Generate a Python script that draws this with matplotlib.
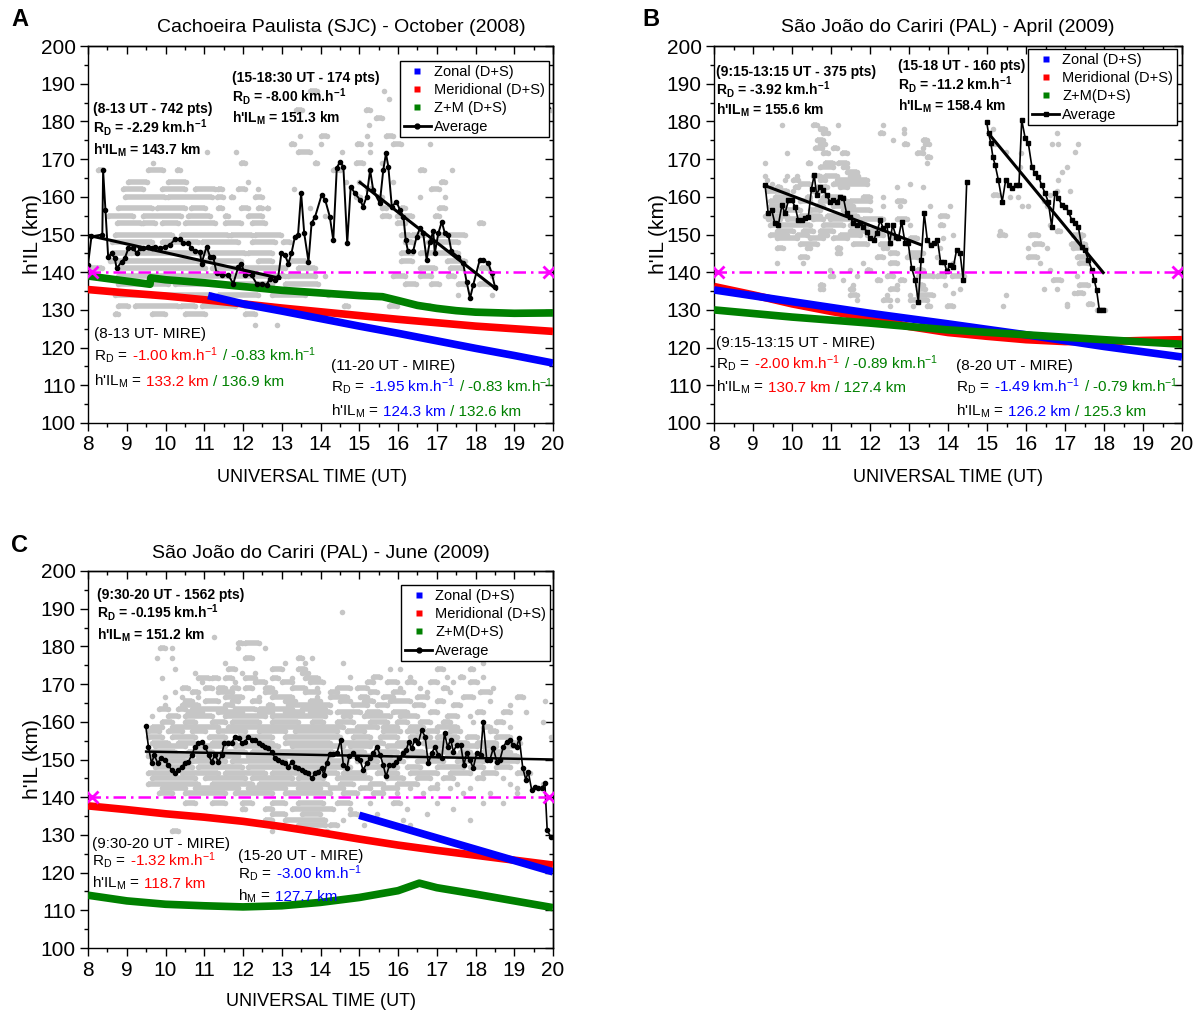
import numpy as np
import matplotlib
matplotlib.use('Agg')
import matplotlib.pyplot as plt
from matplotlib.ticker import MultipleLocator, NullFormatter
from matplotlib.lines import Line2D
from matplotlib.collections import LineCollection
from matplotlib.transforms import offset_copy

plt.rcParams['font.family'] = ['Liberation Sans', 'DejaVu Sans']
plt.rcParams['mathtext.fontset'] = 'custom'
plt.rcParams['mathtext.rm'] = 'Liberation Sans'
plt.rcParams['mathtext.it'] = 'Liberation Sans:italic'
plt.rcParams['mathtext.bf'] = 'Liberation Sans:bold'
plt.rcParams['axes.linewidth'] = 1.0

# ---------------- data ----------------
# Panel A : Cachoeira Paulista, October 2008
A_avg_t = [8.0, 8.09, 8.37, 8.39, 8.45, 8.52, 8.61, 8.69, 8.74, 8.87, 8.95, 9.04, 9.17, 9.26, 9.34, 9.43, 9.56, 9.64,
           9.73, 9.86, 9.98, 10.11, 10.24, 10.37, 10.46, 10.59, 10.67, 10.76, 10.89, 10.93, 11.06, 11.15, 11.23, 11.32,
           11.45, 11.62, 11.75, 11.88, 11.96, 12.05, 12.22, 12.35, 12.48, 12.61, 12.69, 12.82, 12.91, 12.99, 13.08,
           13.17, 13.25, 13.34, 13.42, 13.5, 13.58, 13.69, 13.77, 13.86, 14.03, 14.12, 14.24, 14.33, 14.42, 14.5,
           14.59, 14.69, 14.78, 14.89, 15.02, 15.1, 15.19, 15.28, 15.36, 15.53, 15.62, 15.69, 15.75, 15.84, 15.96,
           16.05, 16.14, 16.2, 16.26, 16.39, 16.48, 16.57, 16.65, 16.74, 16.82, 16.91, 16.95, 17.04, 17.13, 17.21,
           17.3, 17.38, 17.55, 17.68, 17.77, 17.86, 17.94, 18.11, 18.2, 18.33, 18.42, 18.5]
A_avg_h = [142.0, 149.5, 150.0, 167.0, 156.5, 144.1, 145.0, 143.7, 141.0, 142.8, 143.7, 146.3, 146.3, 145.0, 146.3,
           146.3, 146.8, 146.3, 146.8, 146.3, 146.8, 147.2, 148.7, 148.7, 147.7, 147.7, 146.3, 145.7, 145.4, 142.3,
           146.8, 144.1, 144.1, 139.7, 139.2, 139.2, 137.0, 141.5, 142.3, 139.2, 139.2, 137.0, 137.0, 136.6, 138.3,
           137.9, 138.8, 145.0, 144.6, 142.3, 145.0, 149.4, 149.9, 161.0, 150.3, 142.8, 153.0, 154.7, 160.5, 159.2,
           154.7, 148.5, 167.6, 169.3, 168.0, 147.7, 162.7, 160.9, 159.2, 157.4, 160.0, 167.1, 161.8, 158.3, 167.1,
           171.5, 168.0, 157.4, 158.7, 156.5, 154.7, 148.5, 145.5, 145.5, 149.4, 151.7, 150.3, 143.3, 148.1, 150.8,
           145.0, 150.3, 153.4, 150.3, 149.9, 145.5, 144.1, 142.4, 137.5, 133.1, 136.6, 143.3, 143.3, 142.4, 139.7,
           136.2]
A_avg2_t = [19.82, 19.92]
A_avg2_h = [185.5, 183.5]
A_fit1_t, A_fit1_h = [8.0, 12.95], [149.8, 138.4]
A_fit2_t, A_fit2_h = [15.02, 18.54], [163.8, 135.5]
A_zon_t = [11.1, 12, 13, 14, 15, 16, 17, 18, 19, 20]
A_zon_h = [133.8, 131.6, 129.7, 127.7, 125.7, 123.8, 121.8, 119.8, 117.9, 115.9]
A_mer_t = [8, 9, 10, 11, 12, 13, 14, 15, 16, 17, 18, 19, 20]
A_mer_h = [135.4, 134.5, 133.7, 132.7, 131.6, 130.5, 129.5, 128.5, 127.5, 126.6, 125.7, 125.0, 124.3]
A_zm_t = [8, 9.6, 9.62, 10, 11, 12, 13, 14, 15, 15.6, 16, 16.5, 17, 17.5, 18, 19, 20]
A_zm_h = [139.0, 136.8, 138.5, 138.0, 137.2, 136.2, 135.2, 134.5, 133.8, 133.5, 132.5, 131.2, 130.4, 129.8, 129.4,
          129.1, 129.2]
# grey individual points: (height, [single time or (start, end) run of adjacent points])
A_gray = [
    (188, [(13.72, 13.91), 15.63]),
    (186, [15.78, (19.7, 19.78)]),
    (183, [(13.37, 13.52), (15.17, 15.29), (19.85, 19.95)]),
    (181, [(15.44, 15.58)]),
    (179, [15.24]),
    (176, [13.47, (14.01, 14.16), 15.19, (15.68, 15.88)]),
    (174, [(13.23, 13.32), 14.01, (14.95, 15.04), 15.27, (15.86, 16.07), 16.83]),
    (172, [11.06, 11.83, (13.42, 13.72), 14.55, 15.27]),
    (169, [9.68, (11.96, 12.05), (13.86, 13.91), (14.92, 15.09), 15.58]),
    (167, [(8.26, 8.39), (9.54, 9.94), (10.29, 10.37), (14.31, 14.5), 15.29, (16.57, 16.66), 17.4]),
    (164, [(9.04, 9.51), (10.07, 10.54), 12.13, 14.65, 15.0, 15.88, (17.1, 17.2)]),
    (162, [(8.91, 9.43), (9.9, 10.5), (10.76, 11.27), (11.36, 11.45), (11.88, 12.05), 12.39, 13.32, (15.19, 15.34),
           (16.86, 17.06)]),
    (160, [(8.95, 9.98), (10.07, 11.19), (11.32, 11.49), (11.7, 11.75), (12.3, 12.48), (14.92, 15.02), (15.49, 15.58),
           16.57, 17.2]),
    (157, [(8.78, 9.64), (9.77, 10.5), (10.67, 11.02), (11.36, 11.45), (11.96, 12.13), (12.39, 12.48), (12.61, 12.65),
           13.72, (15.58, 15.68), (16.07, 16.17), (17.06, 17.2)]),
    (155, [(8.52, 9.17), (9.43, 10.41), (10.59, 11.15), (11.53, 11.62), (12.13, 12.48), 14.11, (15.58, 15.78),
           (15.98, 16.37), (16.96, 17.06)]),
    (153, [(8.74, 9.38), (9.43, 9.73), (9.9, 10.33), (10.5, 11.27), (11.53, 11.96), (12.22, 12.56), (15.98, 16.17),
           (18.09, 18.19)]),
    (150, [(8.69, 10.16), (10.41, 11.62), (11.7, 12.22), (12.3, 12.99), (16.07, 16.32), (16.37, 16.66),
           (17.06, 17.74)]),
    (148, [(8.61, 9.64), (9.9, 10.84), (10.93, 11.88), (12.22, 12.82), (13.03, 13.22), (16.18, 16.37),
           (16.77, 17.55)]),
    (145, [(8.61, 9.04), (9.12, 10.84), (10.93, 12.05), (12.13, 12.74), (16.08, 16.37), (16.57, 17.55)]),
    (143, [(8.57, 10.84), (11.02, 11.96), (12.39, 12.74), (13.22, 13.62), (16.08, 16.37), (17.26, 17.74)]),
    (141, [(8.09, 8.35), (8.78, 11.02), (11.19, 11.96), (12.05, 13.08), (13.42, 13.86), (16.57, 16.96),
           (17.35, 17.64), (18.14, 18.33)]),
    (139, [(8.78, 11.62), (11.7, 13.08), (13.17, 13.86), 14.11, (15.88, 16.18), (16.57, 16.86), (17.3, 17.45), 18.43]),
    (137, [(8.78, 10.07), (10.24, 11.53), (11.7, 12.74), (13.08, 13.94), (16.18, 16.47), (16.86, 17.06),
           (17.55, 17.74), (18.09, 18.33)]),
    (134, [(8.69, 9.64), (9.9, 11.19), (11.36, 12.39), (12.74, 13.6), 14.2, 17.55, 18.43]),
    (131, [(8.78, 9.04), (9.21, 10.33), (10.41, 10.76), (10.93, 11.79), (12.05, 12.74), (14.6, 14.7),
           (15.78, 15.98), (16.57, 16.86)]),
    (129, [(8.69, 8.78), (9.64, 9.98), (10.5, 11.02), (12.05, 12.3)]),
    (126, [12.3, 12.88]),
]

# Panel B : Sao Joao do Cariri, April 2009
B_avg1_t = [9.31, 9.39, 9.48, 9.56, 9.65, 9.74, 9.82, 9.91, 9.99, 10.08, 10.16, 10.25, 10.33, 10.42, 10.5, 10.57,
            10.63, 10.72, 10.8, 10.89, 10.97, 11.06, 11.15, 11.23, 11.32, 11.4, 11.49, 11.57, 11.66, 11.74, 11.83,
            11.92, 12.0, 12.09, 12.17, 12.26, 12.34, 12.43, 12.5, 12.58, 12.67, 12.73, 12.81, 12.9, 12.98, 13.07,
            13.16, 13.24, 13.31, 13.39, 13.47, 13.56, 13.64, 13.73, 13.81, 13.9, 13.97, 14.05, 14.14, 14.22, 14.31,
            14.39, 14.48]
B_avg1_h = [163.1, 155.6, 156.5, 153.0, 152.5, 157.8, 155.6, 159.1, 159.1, 157.4, 153.8, 153.8, 154.3, 154.7,
            162.2, 165.8, 160.5, 162.7, 161.8, 160.5, 158.7, 159.1, 158.7, 160.0, 159.6, 155.6, 154.7, 153.0, 152.5,
            153.0, 152.1, 150.7, 149.0, 148.5, 150.3, 153.8, 151.6, 152.5, 147.7, 152.5, 149.4, 149.0, 153.4, 147.7,
            147.7, 141.0, 137.9, 132.2, 143.2, 155.6, 148.5, 147.2, 147.7, 148.5, 142.8, 142.8, 140.2, 141.9, 141.5,
            145.9, 145.0, 137.9, 164.0]
B_avg2_t = [14.99, 15.04, 15.1, 15.15, 15.21, 15.29, 15.39, 15.48, 15.56, 15.65, 15.74, 15.82, 15.89, 15.98, 16.06,
            16.15, 16.23, 16.32, 16.4, 16.49, 16.57, 16.66, 16.74, 16.83, 16.92, 17.0, 17.09, 17.17, 17.26, 17.34,
            17.43, 17.51, 17.6, 17.69, 17.75, 17.81, 17.88, 17.98]
B_avg2_h = [179.9, 176.8, 174.2, 170.6, 168.4, 164.5, 158.7, 164.5, 163.1, 162.3, 163.1, 163.1, 180.4, 175.5, 174.2,
            168.0, 166.2, 165.3, 163.1, 160.9, 158.7, 152.1, 160.9, 159.6, 157.8, 157.4, 156.1, 153.9, 153.0, 152.1,
            146.8, 145.9, 143.2, 140.6, 137.9, 135.3, 130.0, 130.0]
B_fit1_t, B_fit1_h = [9.3, 13.3], [163.0, 147.3]
B_fit2_t, B_fit2_h = [15.04, 17.98], [176.8, 139.9]
B_zon_t = [8, 10, 12, 14, 16, 18, 20]
B_zon_h = [135.3, 132.2, 129.1, 126.3, 123.4, 120.3, 117.5]
B_mer_t = [8, 9, 10, 11, 12, 13, 14, 15, 16, 17, 18, 19, 20]
B_mer_h = [136.2, 134.0, 131.6, 129.6, 127.8, 125.6, 124.0, 123.0, 122.1, 121.6, 121.6, 121.9, 122.1]
B_zm_t = [8, 10, 12, 14, 16, 18, 20]
B_zm_h = [130.0, 128.1, 126.5, 124.7, 123.4, 122.1, 120.9]
B_gray = [
    (186, [16.26]),
    (183, [(16.5, 16.6)]),
    (179, [9.75, (10.55, 10.63), 11.17, 12.34]),
    (178, [(10.72, 10.85), 12.88, 15.16]),
    (177, [(10.8, 10.93), (12.26, 12.34), 12.86, 16.8]),
    (175, [(10.63, 10.8), 12.6, (13.37, 13.45)]),
    (174, [(10.72, 10.85), (12.86, 12.94), (13.42, 13.52), 16.66, 16.83, 17.34, (15.12, 15.2)]),
    (173, [(10.59, 10.76), (11.06, 11.15), 13.37]),
    (172, [15.48, 17.26]),
    (171.5, [9.86, (10.8, 10.93), (11.27, 11.4), (13.2, 13.37), 15.87]),
    (170.5, [(13.45, 13.54)]),
    (169, [9.31, (10.42, 10.46), (10.85, 11.06), (11.19, 11.4), 13.45]),
    (168, [(10.72, 11.06), (11.32, 11.4), 15.85, 17.04]),
    (166.5, [(11.4, 11.66), 16.92]),
    (165.5, [9.31, 9.86, 10.12, (10.55, 10.72), (10.85, 11.15), (11.49, 11.7)]),
    (164.5, [9.35, 9.82, (10.03, 10.16), (10.72, 10.85), (11.15, 11.92), 16.83]),
    (163.5, [9.48, (10.21, 10.46), (11.06, 11.92), 13.03]),
    (162.5, [(9.61, 9.69), (10.08, 10.16), (10.63, 10.89), (11.23, 11.4), 12.68, 13.37]),
    (161.5, [(9.35, 9.86), 10.03, (10.55, 10.72), 17.13, 16.79]),
    (160.5, [(15.16, 15.29), 16.62]),
    (160, [(9.56, 9.95), (10.38, 10.46), (10.8, 11.32), (11.83, 12.0), 12.34, 15.59, 15.8]),
    (159, [(9.44, 9.86), (10.21, 10.46), (10.72, 11.4), (11.49, 12.0), (12.68, 12.86), 16.45]),
    (157.5, [(9.44, 9.78), (10.63, 10.8), (11.06, 11.57), 12.34, 12.77, 13.54, 14.05, 15.89, 16.06, 16.53]),
    (156.5, [(9.61, 10.21), (10.46, 10.72), (11.32, 12.0)]),
    (155, [(9.31, 9.86), (10.21, 10.72), (10.89, 11.66), (13.8, 13.97)]),
    (154, [(9.39, 9.69), (9.86, 10.29), (10.55, 10.8), (10.97, 11.74), (11.83, 12.34), (12.68, 12.94)]),
    (152.5, [(9.44, 10.46), (10.8, 11.32), (11.49, 11.92), 13.03, (13.8, 13.88), 16.62]),
    (151, [(9.61, 10.03), (10.29, 10.55), (10.72, 11.06), (11.49, 12.26), 15.33, (16.79, 16.87)]),
    (150, [(9.44, 9.86), (10.12, 10.38), (10.72, 10.89), (11.23, 11.74), (11.92, 12.34), 12.51, 14.14,
           (15.3, 15.45), (16.1, 16.3), (17.2, 17.45)]),
    (149, [(9.61, 10.12), (10.46, 10.8), (11.06, 11.4), (12.51, 12.68), (13.03, 13.2), 13.88, 17.39]),
    (147.5, [(10.21, 10.63), (11.57, 11.92), (12.26, 12.51), 13.54, (16.2, 16.4), (17.15, 17.5)]),
    (146.5, [(9.61, 9.78), (10.38, 10.46), (11.15, 11.23), (12.34, 12.43), 13.8, 16.06, 16.53, (17.2, 17.55)]),
    (145, [(11.15, 11.23), (12.51, 12.68), (13.03, 13.37)]),
    (144, [(10.21, 10.38), (12.17, 12.34), (12.94, 13.2), 13.71, (16.06, 16.27), (17.3, 17.6)]),
    (142.5, [9.61, 10.29, 11.83, (12.51, 12.68), 14.14, 16.36, (17.35, 17.6)]),
    (140.5, [10.97, 11.49, (11.92, 12.0), (13.2, 13.37), 16.62]),
    (139, [(10.97, 11.06), 11.66, (12.43, 12.6), (13.23, 13.62), (13.72, 13.9), (14.1, 14.4), 17.3]),
    (138, [11.32, (12.17, 12.26), (12.77, 12.86), (16.7, 16.9)]),
    (136.5, [(10.72, 10.8), 11.57, 12.68, (13.2, 13.37), 13.92, (17.35, 17.6)]),
    (135.5, [(10.72, 10.8), (11.49, 11.57), (12.51, 12.68), (13.23, 13.42), 14.31, 16.45, 16.79]),
    (134.5, [17.22, 14.14, (17.3, 17.45)]),
    (134, [(11.49, 11.66), 12.43, 13.03, (13.23, 13.62), 15.48]),
    (132.5, [11.66, (12.34, 12.51), 12.68, (13.03, 13.45)]),
    (131.5, [17.04, (17.6, 17.7)]),
    (131, [12.51, 13.11, (13.45, 13.54), (13.97, 14.14), 15.4, 17.05]),
    (130, [(17.83, 18.03)]),
]

# Panel C : Sao Joao do Cariri, June 2009
C_avg_t = [9.49, 9.56, 9.64, 9.71, 9.8, 9.88, 9.99, 10.07, 10.16, 10.25, 10.33, 10.42, 10.5, 10.59, 10.68, 10.76,
           10.85, 10.93, 11.02, 11.11, 11.19, 11.28, 11.36, 11.45, 11.52, 11.6, 11.71, 11.79, 11.9, 11.97, 12.05,
           12.14, 12.22, 12.31, 12.4, 12.48, 12.57, 12.65, 12.74, 12.83, 12.91, 13.0, 13.08, 13.17, 13.26, 13.34,
           13.43, 13.51, 13.6, 13.69, 13.77, 13.86, 13.94, 14.03, 14.09, 14.16, 14.24, 14.33, 14.42, 14.52, 14.59,
           14.68, 14.74, 14.85, 14.93, 15.02, 15.1, 15.19, 15.28, 15.36, 15.45, 15.54, 15.62, 15.69, 15.78, 15.86,
           15.95, 16.03, 16.12, 16.21, 16.28, 16.35, 16.44, 16.52, 16.61, 16.7, 16.78, 16.87, 16.95, 17.04, 17.13,
           17.2, 17.28, 17.36, 17.43, 17.51, 17.62, 17.7, 17.77, 17.86, 17.94, 18.03, 18.13, 18.2, 18.29, 18.37,
           18.46, 18.55, 18.63, 18.72, 18.8, 18.89, 18.97, 19.06, 19.13, 19.22, 19.3, 19.36, 19.45, 19.53, 19.62,
           19.71, 19.79, 19.85, 19.94]
C_avg_h = [158.9, 153.4, 149.0, 151.2, 149.0, 150.3, 149.9, 148.5, 147.2, 146.3, 147.2, 148.1, 149.0, 149.4, 151.2,
           153.4, 154.3, 154.7, 153.4, 151.2, 149.4, 151.2, 149.4, 151.2, 154.5, 154.5, 154.3, 156.1, 155.6, 154.3,
           154.7, 156.1, 155.2, 155.2, 154.3, 153.8, 153.4, 153.0, 152.1, 150.3, 149.9, 149.4, 149.0, 148.1, 149.4,
           148.1, 147.7, 147.2, 146.8, 146.3, 145.0, 146.3, 146.8, 147.7, 145.9, 149.0, 151.5, 151.5, 151.6, 155.2,
           148.5, 147.7, 150.8, 151.6, 150.3, 149.9, 147.2, 149.0, 150.3, 151.6, 153.4, 151.2, 148.5, 145.5, 148.5,
           148.5, 149.4, 150.3, 151.6, 152.5, 154.7, 153.0, 155.2, 154.3, 157.8, 156.1, 149.0, 151.6, 153.4, 151.2,
           150.3, 156.9, 153.4, 155.2, 152.1, 153.8, 153.8, 148.5, 151.6, 149.9, 147.7, 151.6, 151.2, 160.0, 149.9,
           149.9, 153.0, 149.4, 149.9, 153.4, 154.7, 155.2, 153.8, 153.4, 155.6, 147.7, 144.6, 146.8, 141.9, 142.8,
           142.4, 142.4, 143.7, 131.3, 129.5]
C_fit_t, C_fit_h = [9.5, 20.0], [152.1, 150.0]
C_zon_t, C_zon_h = [15.0, 20.0], [135.2, 120.2]
C_mer_t = [8, 9, 10, 11, 12, 13, 14, 15, 16, 17, 18, 19, 20]
C_mer_h = [137.7, 136.7, 135.6, 134.7, 133.6, 132.2, 130.6, 128.9, 127.3, 125.9, 124.6, 123.3, 122.0]
C_zm_t = [8, 9, 10, 11, 12, 13, 14, 15, 16, 16.55, 17, 18, 19, 20]
C_zm_h = [114.0, 112.5, 111.6, 111.2, 110.9, 111.2, 112.1, 113.4, 115.2, 117.2, 116.0, 114.3, 112.5, 110.7]
C_gray = [
    (189, [14.55]),
    (182.5, [11.26, 16.17]),
    (181, [(11.88, 11.97), (12.05, 12.4)]),
    (179.5, [(9.86, 9.99), 10.16, 11.88, 12.57, 16.45, 16.85]),
    (177, [9.77, 10.16, (12.05, 12.22), (13.43, 13.51), 13.77]),
    (175.5, [11.53, 13.08, 13.6, 14.59, 18.2]),
    (174, [10.25, (11.62, 11.79), (12.74, 13.0), (13.43, 13.6), 15.79, 16.05, (17.0, 17.17), (17.86, 17.94)]),
    (173, [10.76, 11.97, 12.31, (13.51, 13.69)]),
    (172, [14.76, (15.36, 15.54), 16.31, 17.26, (17.6, 17.69), 18.2]),
    (171.5, [9.9, (10.85, 11.11), (11.19, 11.36), (11.53, 11.71), (12.05, 12.31), (12.74, 12.91), 13.26,
             (13.6, 13.94)]),
    (170.5, [10.93, 11.79, (12.31, 12.57), (13.0, 13.26), (13.73, 14.07), (15.19, 15.36), (15.71, 15.97),
             (16.22, 16.4), (16.83, 17.0), 17.43, (17.86, 18.03)]),
    (169, [(10.42, 10.59), (11.02, 11.19), (11.36, 11.53), (11.71, 11.88), (12.05, 12.22), (12.57, 12.74),
           (13.26, 13.6), 13.9, (14.42, 14.76), (14.93, 15.19), 16.05, 16.57, (17.17, 17.26), 18.46]),
    (168, [10.25, (10.68, 10.85), (11.36, 11.71), (12.57, 12.83), (13.6, 13.94), (14.24, 14.42), (15.28, 15.45),
           (15.88, 16.14), 16.74, 17.34, (18.12, 18.37)]),
    (166.5, [9.99, 10.42, 10.85, (11.53, 11.97), 12.4, (12.74, 13.26), 13.9, (14.24, 14.68), (15.02, 15.19),
             (15.62, 15.88), (16.48, 16.74), (17.69, 17.94), (19.06, 19.23)]),
    (165.5, [(10.5, 10.68), (11.02, 11.36), (11.71, 11.88), (12.22, 12.4), (13.08, 13.34), (13.73, 13.99),
             (14.5, 14.76), (15.11, 15.36), (15.79, 16.31), (17.0, 17.17), 18.37, 19.8]),
    (164.5, [9.99, (10.42, 10.85), (11.53, 11.71), (12.65, 12.74), (13.17, 14.24), (14.85, 15.19), (15.45, 15.71),
             (16.4, 16.65), (17.43, 17.6), 18.89]),
    (163.5, [(9.82, 10.07), (10.33, 10.5), (10.68, 11.53), (11.79, 12.31), (12.4, 13.26), (13.51, 14.12)]),
    (162.5, [(10.59, 10.93), (11.36, 11.97), (12.4, 12.74), (13.08, 13.51), (13.73, 14.24), (14.42, 15.02),
             (15.19, 15.54), (15.88, 16.22), (16.83, 17.0), (18.03, 18.2), (18.72, 18.89), 19.3]),
    (161.5, [9.64, (10.07, 10.33), (10.5, 11.19), (11.53, 12.57), (12.74, 14.12), (14.59, 14.76), (15.11, 15.79),
             (16.05, 16.48), (17.26, 17.51), 17.86]),
    (160, [(9.9, 10.16), (10.5, 10.76), (11.19, 11.53), (11.71, 12.4), (12.74, 13.43), (13.77, 14.07),
           (14.42, 14.85), (15.28, 15.71), (15.97, 16.22), (16.57, 16.83), (17.17, 17.34), 17.94, (18.54, 18.72),
           19.75]),
    (158.5, [(9.64, 9.9), (10.16, 11.36), (11.62, 14.59), (14.93, 15.45), (15.62, 15.97), (16.31, 16.65),
             (17.0, 17.51), (18.2, 18.37), 18.89]),
    (157.5, [(9.56, 9.82), (10.07, 10.42), (10.68, 11.02), (11.36, 12.05), (12.4, 13.08), (13.34, 14.42),
             (14.68, 15.11), (15.62, 16.05), (16.22, 16.48), (16.74, 17.0), (17.34, 17.6), (18.37, 18.54)]),
    (156, [(9.56, 9.9), (10.16, 10.76), (11.11, 11.53), (11.88, 12.74), (13.08, 14.5), (14.85, 15.28),
           (15.54, 15.97), (16.31, 16.83), (17.0, 17.51), (17.77, 18.03), (18.54, 18.89), 19.95]),
    (154.5, [(9.64, 10.07), (10.33, 10.76), (11.19, 11.79), (12.22, 12.74), (13.08, 14.24), (14.59, 15.62),
             (15.97, 16.31), (16.65, 17.17), (17.34, 17.77), (18.03, 18.54), (18.89, 19.15)]),
    (153.5, [(9.73, 10.5), (10.76, 11.53), (11.79, 12.91), (13.26, 14.59), (14.76, 15.28), (15.71, 16.22),
             (16.74, 17.34), (17.51, 18.03), (18.2, 18.54), (18.8, 19.06)]),
    (152, [(9.56, 10.25), (10.59, 11.19), (11.45, 12.05), (12.22, 14.33), (14.59, 15.11), (15.45, 15.97),
           (16.14, 16.65), (17.0, 17.34), (17.6, 17.86), (18.2, 18.89)]),
    (151, [(9.56, 10.68), (10.85, 11.88), (12.14, 14.24), (14.59, 15.79), (16.22, 17.0), (17.26, 17.69),
           (17.86, 19.06)]),
    (149.5, [(9.64, 10.5), (10.68, 11.53), (11.71, 13.08), (13.26, 14.68), (14.93, 15.45), (15.62, 16.14),
             (16.48, 17.17), (17.51, 18.2), (18.54, 19.06)]),
    (148, [(9.73, 10.68), (10.85, 11.97), (12.14, 14.76), (15.19, 15.97), (16.22, 16.57), (17.0, 17.69),
           (17.86, 18.2), (18.54, 18.89)]),
    (146.5, [(9.56, 10.16), (10.42, 11.36), (11.53, 12.57), (12.74, 14.42), (14.59, 15.11), (15.45, 15.97),
             (16.31, 17.0), (17.34, 17.86), (18.2, 18.54), (19.06, 19.41)]),
    (145, [(9.64, 10.76), (11.02, 12.05), (12.22, 13.26), (13.43, 14.07), (14.42, 15.28), (15.71, 16.14),
           (16.48, 16.83), (17.17, 17.43), (18.03, 18.2), 18.72]),
    (143.5, [(9.56, 10.85), (11.19, 12.22), (12.4, 14.16), (14.5, 14.85), (15.28, 15.62), (15.97, 16.48), 17.0,
             17.51, 18.89, 19.75]),
    (142.5, [(9.9, 10.5), (10.76, 11.88), (12.14, 13.08), (13.43, 13.99), (14.24, 14.59), (15.02, 15.28),
             (15.62, 15.97), 16.31, (16.83, 17.0), 17.34, 17.86, 19.06]),
    (141, [(9.82, 10.16), (10.5, 11.53), (11.79, 12.74), (13.08, 14.24), (14.59, 14.93), (15.36, 15.62), 15.97,
           16.65, 17.69, 18.37, 19.06]),
    (138.5, [(10.5, 10.76), (11.19, 11.53), (11.97, 12.22), (12.74, 13.08), (13.43, 14.07), (14.42, 14.76), 15.28,
             (15.88, 16.05), 17.0, 18.2, 18.72]),
    (137, [(11.97, 12.05), (12.57, 12.74), (13.26, 14.33), 14.76, 16.22, 17.43]),
    (135.5, [(12.74, 13.08), (13.51, 13.99), (14.76, 14.93), 15.45, 16.74]),
    (134, [(12.57, 12.74), (13.08, 14.12), 14.59, 16.14, 17.86]),
    (132.5, [(13.43, 14.12), (14.24, 14.42), 15.11, 16.31]),
    (131, [(10.16, 10.33), 12.74, (13.6, 13.94), 14.16]),
]

XTICKS = list(range(8, 21))
YTICKS = list(range(100, 201, 10))
BLUE, RED, GREEN, MAG = '#0000ff', '#ff0000', '#008000', '#ff00ff'
GRAY = '#c6c6c6'

# ---------------- figure ----------------
W, H = 1199, 1015
fig = plt.figure(figsize=(W / 100, H / 100), dpi=100)
renderer = fig.canvas.get_renderer()


def axes_px(l, r, t, b):
    return fig.add_axes([l / W, 1 - b / H, (r - l) / W, (b - t) / H])


def style(ax):
    ax.set_xlim(8, 20)
    ax.set_ylim(100, 200)
    ax.set_xticks(XTICKS)
    ax.set_yticks(YTICKS)
    ax.xaxis.set_minor_locator(MultipleLocator(0.5))
    ax.yaxis.set_minor_locator(MultipleLocator(5))
    ax.tick_params(which='both', direction='out', labelsize=15, width=1, pad=3)
    ax.tick_params(which='major', length=6)
    ax.tick_params(which='minor', length=3)
    sx = ax.secondary_xaxis('top')
    sx.set_xticks(XTICKS)
    sx.xaxis.set_minor_locator(MultipleLocator(0.5))
    sx.xaxis.set_major_formatter(NullFormatter())
    sx.tick_params(which='both', direction='in', width=1)
    sx.tick_params(which='major', length=6)
    sx.tick_params(which='minor', length=3)
    sy = ax.secondary_yaxis('right')
    sy.set_yticks(YTICKS)
    sy.yaxis.set_minor_locator(MultipleLocator(5))
    sy.yaxis.set_major_formatter(NullFormatter())
    sy.tick_params(which='both', direction='in', width=1)
    sy.tick_params(which='major', length=6)
    sy.tick_params(which='minor', length=3)


def draw_gray(ax, rows):
    segs, xs, ys = [], [], []
    for h, items in rows:
        for it in items:
            if isinstance(it, tuple):
                segs.append([(it[0], h), (it[1], h)])
                xs += [it[0], it[1]]
                ys += [h, h]
            else:
                xs.append(it)
                ys.append(h)
    ax.add_collection(LineCollection(segs, colors=GRAY, linewidths=4.0, zorder=1, capstyle='butt'))
    ax.plot(xs, ys, 'o', color=GRAY, ms=4.0, mec='none', zorder=1)


def draw_common(ax):
    ax.plot([8, 20], [140, 140], color=MAG, lw=1.8, ls=(0, (5, 2, 1, 2)), zorder=6)
    ax.plot([8.1, 19.9], [140, 140], ls='none', marker='x', color=MAG, ms=9, mew=2, zorder=6)


def legend(ax, l, t, avg_marker, zm_label):
    handles = [Line2D([], [], ls='none', marker='s', ms=5, color=BLUE, mec='none', label='Zonal (D+S)'),
               Line2D([], [], ls='none', marker='s', ms=5, color=RED, mec='none', label='Meridional (D+S)'),
               Line2D([], [], ls='none', marker='s', ms=5, color=GREEN, mec='none', label=zm_label),
               Line2D([], [], color='k', lw=2, marker=avg_marker, ms=3.5, label='Average')]
    leg = ax.legend(handles=handles, loc='upper left', bbox_to_anchor=(l / W, 1 - t / H),
                    bbox_transform=fig.transFigure, fontsize=10.5, frameon=True, fancybox=False,
                    edgecolor='k', framealpha=1, borderpad=0.25, labelspacing=0.3, handlelength=1.9,
                    handletextpad=0.2, borderaxespad=0)
    leg.get_frame().set_linewidth(1.0)
    leg.set_zorder(20)


_sp = {}


def space_w(size, weight):
    key = (size, weight)
    if key not in _sp:
        t1 = fig.text(0, 0, 'n n', fontsize=size, fontweight=weight)
        t2 = fig.text(0, 0, 'nn', fontsize=size, fontweight=weight)
        _sp[key] = t1.get_window_extent(renderer).width - t2.get_window_extent(renderer).width
        t1.remove()
        t2.remove()
    return _sp[key]


def ctext(px, py, pieces, size, weight='normal'):
    sw = space_w(size, weight)
    dx = 0.0
    for s, c in pieces:
        lead = len(s) - len(s.lstrip(' '))
        trail = len(s) - len(s.rstrip(' '))
        core = s.strip(' ')
        dx += lead * sw
        t = fig.text(px / W, 1 - py / H, core, color=c, fontsize=size, fontweight=weight, ha='left',
                     va='baseline', zorder=30,
                     transform=offset_copy(fig.transFigure, fig=fig, x=dx, y=0, units='dots'))
        dx += t.get_window_extent(renderer).width + trail * sw


K = 'k'
RD_B = r'R$_\mathbf{D}$ = '
HM_B = r"h'IL$_\mathbf{M}$ = "
UNIT_B = r' km.h$^\mathbf{-1}$'
RD = r'R$_\mathrm{D}$ = '
HM = r"h'IL$_\mathrm{M}$ = "
UNIT = r' km.h$^{-1}$'


def block_bold(px, pys, head, rd, hm):
    ctext(px, pys[0], [(head, K)], 10, 'bold')
    ctext(px, pys[1], [(RD_B + rd + UNIT_B, K)], 10, 'bold')
    ctext(px, pys[2], [(HM_B + hm + ' km', K)], 10, 'bold')


def labels(l, r, t, b, title, title_cx, xlab_cx):
    fig.text(title_cx / W, 1 - (t - 18) / H, title, ha='center', va='center', fontsize=14)
    fig.text(xlab_cx / W, 1 - (b + 54) / H, 'UNIVERSAL TIME (UT)', ha='center', va='center', fontsize=13)
    fig.text((l - 55) / W, 1 - (t + b) / 2 / H, "h'IL (km)", ha='center', va='center', rotation=90,
             fontsize=15)


# ---------- Panel A ----------
lA, rA, tA, bA = 88, 553, 46, 423
axA = axes_px(lA, rA, tA, bA)
style(axA)
draw_gray(axA, A_gray)
axA.plot(A_mer_t, A_mer_h, color=RED, lw=5.5, solid_capstyle='butt', zorder=3)
axA.plot(A_zon_t, A_zon_h, color=BLUE, lw=5.5, solid_capstyle='butt', zorder=3)
axA.plot(A_zm_t, A_zm_h, color=GREEN, lw=5.5, solid_capstyle='butt', zorder=3)
axA.plot(A_avg_t, A_avg_h, '-o', color='k', lw=1.4, ms=3, zorder=5)
axA.plot(A_avg2_t, A_avg2_h, '-', color='k', lw=1.4, zorder=5)
axA.plot(A_fit1_t, A_fit1_h, color='k', lw=2.2, zorder=7)
axA.plot(A_fit2_t, A_fit2_h, color='k', lw=2.2, zorder=7)
draw_common(axA)
legend(axA, 400, 61, 'o', 'Z+M (D+S)')
labels(lA, rA, tA, bA, 'Cachoeira Paulista (SJC) - October (2008)', 341, 312)
block_bold(93, [113, 133, 155], '(8-13 UT - 742 pts)', '-2.29', '143.7')
block_bold(232, [82, 102, 123], '(15-18:30 UT - 174 pts)', '-8.00', '151.3')
ctext(94, 338, [('(8-13 UT- MIRE)', K)], 11)
ctext(94, 361, [(RD, K), ('-1.00' + UNIT, RED), (' / -0.83' + UNIT, GREEN)], 11)
ctext(94, 386, [(HM, K), ('133.2 km', RED), (' / 136.9 km', GREEN)], 11)
ctext(331, 370, [('(11-20 UT - MIRE)', K)], 11)
ctext(331, 392, [(RD, K), ('-1.95' + UNIT, BLUE), (' / -0.83' + UNIT, GREEN)], 11)
ctext(331, 416, [(HM, K), ('124.3 km', BLUE), (' / 132.6 km', GREEN)], 11)

# ---------- Panel B ----------
lB, rB, tB, bB = 714, 1182, 46, 423
axB = axes_px(lB, rB, tB, bB)
style(axB)
draw_gray(axB, B_gray)
axB.plot(B_mer_t, B_mer_h, color=RED, lw=5.5, solid_capstyle='butt', zorder=3)
axB.plot(B_zon_t, B_zon_h, color=BLUE, lw=5.5, solid_capstyle='butt', zorder=3)
axB.plot(B_zm_t, B_zm_h, color=GREEN, lw=5.5, solid_capstyle='butt', zorder=3)
axB.plot(B_avg1_t, B_avg1_h, '-s', color='k', lw=1.2, ms=3, zorder=5)
axB.plot(B_avg2_t, B_avg2_h, '-s', color='k', lw=1.2, ms=3, zorder=5)
axB.plot(B_fit1_t, B_fit1_h, color='k', lw=2.2, zorder=7)
axB.plot(B_fit2_t, B_fit2_h, color='k', lw=2.2, zorder=7)
draw_common(axB)
legend(axB, 1028, 49, 's', 'Z+M(D+S)')
labels(lB, rB, tB, bB, 'São João do Cariri (PAL) - April (2009)', 948, 948)
block_bold(716, [76, 95, 115], '(9:15-13:15 UT - 375 pts)', '-3.92', '155.6')
block_bold(898, [70, 90, 111], '(15-18 UT - 160 pts)', '-11.2', '158.4')
ctext(716, 347, [('(9:15-13:15 UT - MIRE)', K)], 11)
ctext(716, 369, [(RD, K), ('-2.00' + UNIT, RED), (' / -0.89' + UNIT, GREEN)], 11)
ctext(716, 392, [(HM, K), ('130.7 km', RED), (' / 127.4 km', GREEN)], 11)
ctext(956, 370, [('(8-20 UT - MIRE)', K)], 11)
ctext(956, 392, [(RD, K), ('-1.49' + UNIT, BLUE), (' / -0.79' + UNIT, GREEN)], 11)
ctext(956, 416, [(HM, K), ('126.2 km', BLUE), (' / 125.3 km', GREEN)], 11)

# ---------- Panel C ----------
lC, rC, tC, bC = 88, 553, 571, 948
axC = axes_px(lC, rC, tC, bC)
style(axC)
draw_gray(axC, C_gray)
axC.plot(C_mer_t, C_mer_h, color=RED, lw=5.5, solid_capstyle='butt', zorder=3)
axC.plot(C_zon_t, C_zon_h, color=BLUE, lw=5.5, solid_capstyle='butt', zorder=3)
axC.plot(C_zm_t, C_zm_h, color=GREEN, lw=5.5, solid_capstyle='butt', zorder=3)
axC.plot(C_avg_t, C_avg_h, '-o', color='k', lw=1.2, ms=3, zorder=5)
axC.plot(C_fit_t, C_fit_h, color='k', lw=1.8, zorder=7)
draw_common(axC)
legend(axC, 401, 585, 'o', 'Z+M(D+S)')
labels(lC, rC, tC, bC, 'São João do Cariri (PAL) - June (2009)', 321, 321)
block_bold(97, [599, 618, 640], '(9:30-20 UT - 1562 pts)', '-0.195', '151.2')
ctext(92, 848, [('(9:30-20 UT - MIRE)', K)], 11)
ctext(92, 866, [(RD, K), ('-1.32' + UNIT, RED)], 11)
ctext(92, 888, [(HM, K), ('118.7 km', RED)], 11)
ctext(238, 860, [('(15-20 UT - MIRE)', K)], 11)
ctext(238, 879, [(RD, K), ('-3.00' + UNIT, BLUE)], 11)
ctext(238, 901, [(r'h$_\mathrm{M}$ = ', K), ('127.7 km', BLUE)], 11)

# panel letters
for s, px, py in [('A', 20, 20), ('B', 651, 20), ('C', 20, 545)]:
    fig.text(px / W, 1 - py / H, s, ha='center', va='center', fontsize=17, fontweight='bold')

fig.savefig('out.png', dpi=100)
